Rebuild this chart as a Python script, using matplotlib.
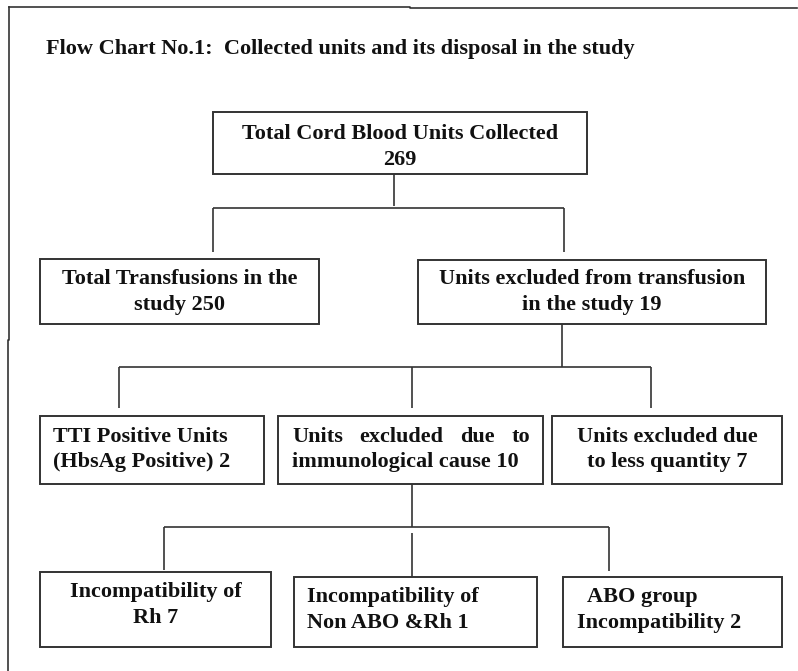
import matplotlib
matplotlib.use('Agg')
import matplotlib.pyplot as plt
from matplotlib.patches import Rectangle

title = "Flow Chart No.1:  Collected units and its disposal in the study"

# node labels, one list of lines per box
labels = [
    ["Total Cord Blood Units Collected", "269"],
    ["Total Transfusions in the", "study 250"],
    ["Units excluded from transfusion", "in the study 19"],
    ["TTI Positive Units", "(HbsAg Positive) 2"],
    ["Units excluded due to", "immunological cause 10"],
    ["Units excluded due", "to less quantity 7"],
    ["Incompatibility of", "Rh 7"],
    ["Incompatibility of", "Non ABO &Rh 1"],
    ["  ABO group", "Incompatibility 2"],
]
align = ["center", "center", "center", "left", "justify", "center",
         "center", "left", "left"]

# layout in pixels: x0, y0, x1, y1 (y grows downward)
boxes = [
    (213, 112, 587, 174),
    (40, 259, 319, 324),
    (418, 260, 766, 324),
    (40, 416, 264, 484),
    (278, 416, 543, 484),
    (552, 416, 782, 484),
    (40, 572, 271, 647),
    (294, 577, 537, 647),
    (563, 577, 782, 647),
]
# text left edge for left aligned / justified boxes
text_x = {3: 53, 4: 292, 7: 307, 8: 577}
line_y = [
    (134, 160), (279, 305), (279, 305),
    (437, 462), (437, 462), (437, 462),
    (592, 618), (597, 623), (597, 623),
]

# connector segments (x0, y0, x1, y1)
connectors = [
    (394, 174, 394, 206), (213, 208, 564, 208),
    (213, 208, 213, 252), (564, 208, 564, 252),
    (562, 324, 562, 367), (119, 367, 651, 367),
    (119, 367, 119, 408), (412, 367, 412, 408), (651, 367, 651, 408),
    (412, 484, 412, 527), (164, 527, 609, 527),
    (164, 527, 164, 570), (412, 533, 412, 577), (609, 527, 609, 571),
]

W, H = 798, 671
fig = plt.figure(figsize=(W / 100, H / 100), dpi=100)
ax = fig.add_axes([0, 0, 1, 1])
ax.set_xlim(0, W)
ax.set_ylim(H, 0)
ax.axis('off')

font = dict(family='Liberation Serif', weight='bold', fontsize=16,
            color='#111111')
line_col = '#333333'

# outer frame (top and left only, as in the scan)
ax.plot([9, 410, 410, 797], [7, 7, 8, 8], color=line_col, lw=1.2)
ax.plot([9, 9, 8, 8], [7, 340, 340, H], color=line_col, lw=1.2)

ax.text(46, 49, title, ha='left', va='center', **font)

for x0, y0, x1, y1 in connectors:
    ax.plot([x0, x1], [y0, y1], color=line_col, lw=1.2, solid_capstyle='butt')

fig.canvas.draw()
renderer = fig.canvas.get_renderer()


def text_width(s):
    t = ax.text(0, 0, s, **font)
    bb = t.get_window_extent(renderer)
    t.remove()
    return bb.width


for i, (x0, y0, x1, y1) in enumerate(boxes):
    ax.add_patch(Rectangle((x0, y0), x1 - x0, y1 - y0, fill=False,
                           edgecolor=line_col, lw=1.4))
    for j, line in enumerate(labels[i]):
        y = line_y[i][j]
        if align[i] == "center":
            ax.text((x0 + x1) / 2, y, line, ha='center', va='center', **font)
        elif align[i] == "left":
            ax.text(text_x[i], y, line, ha='left', va='center', **font)
        else:
            if j == 0:
                # spread the words over the full line width
                words = line.split()
                widths = [text_width(w) for w in words]
                span = (x1 - 13) - text_x[i]
                gap = (span - sum(widths)) / (len(words) - 1)
                x = text_x[i]
                for w, wd in zip(words, widths):
                    ax.text(x, y, w, ha='left', va='center', **font)
                    x += wd + gap
            else:
                ax.text(text_x[i], y, line, ha='left', va='center', **font)

fig.savefig('out.png', dpi=100, facecolor='white')
